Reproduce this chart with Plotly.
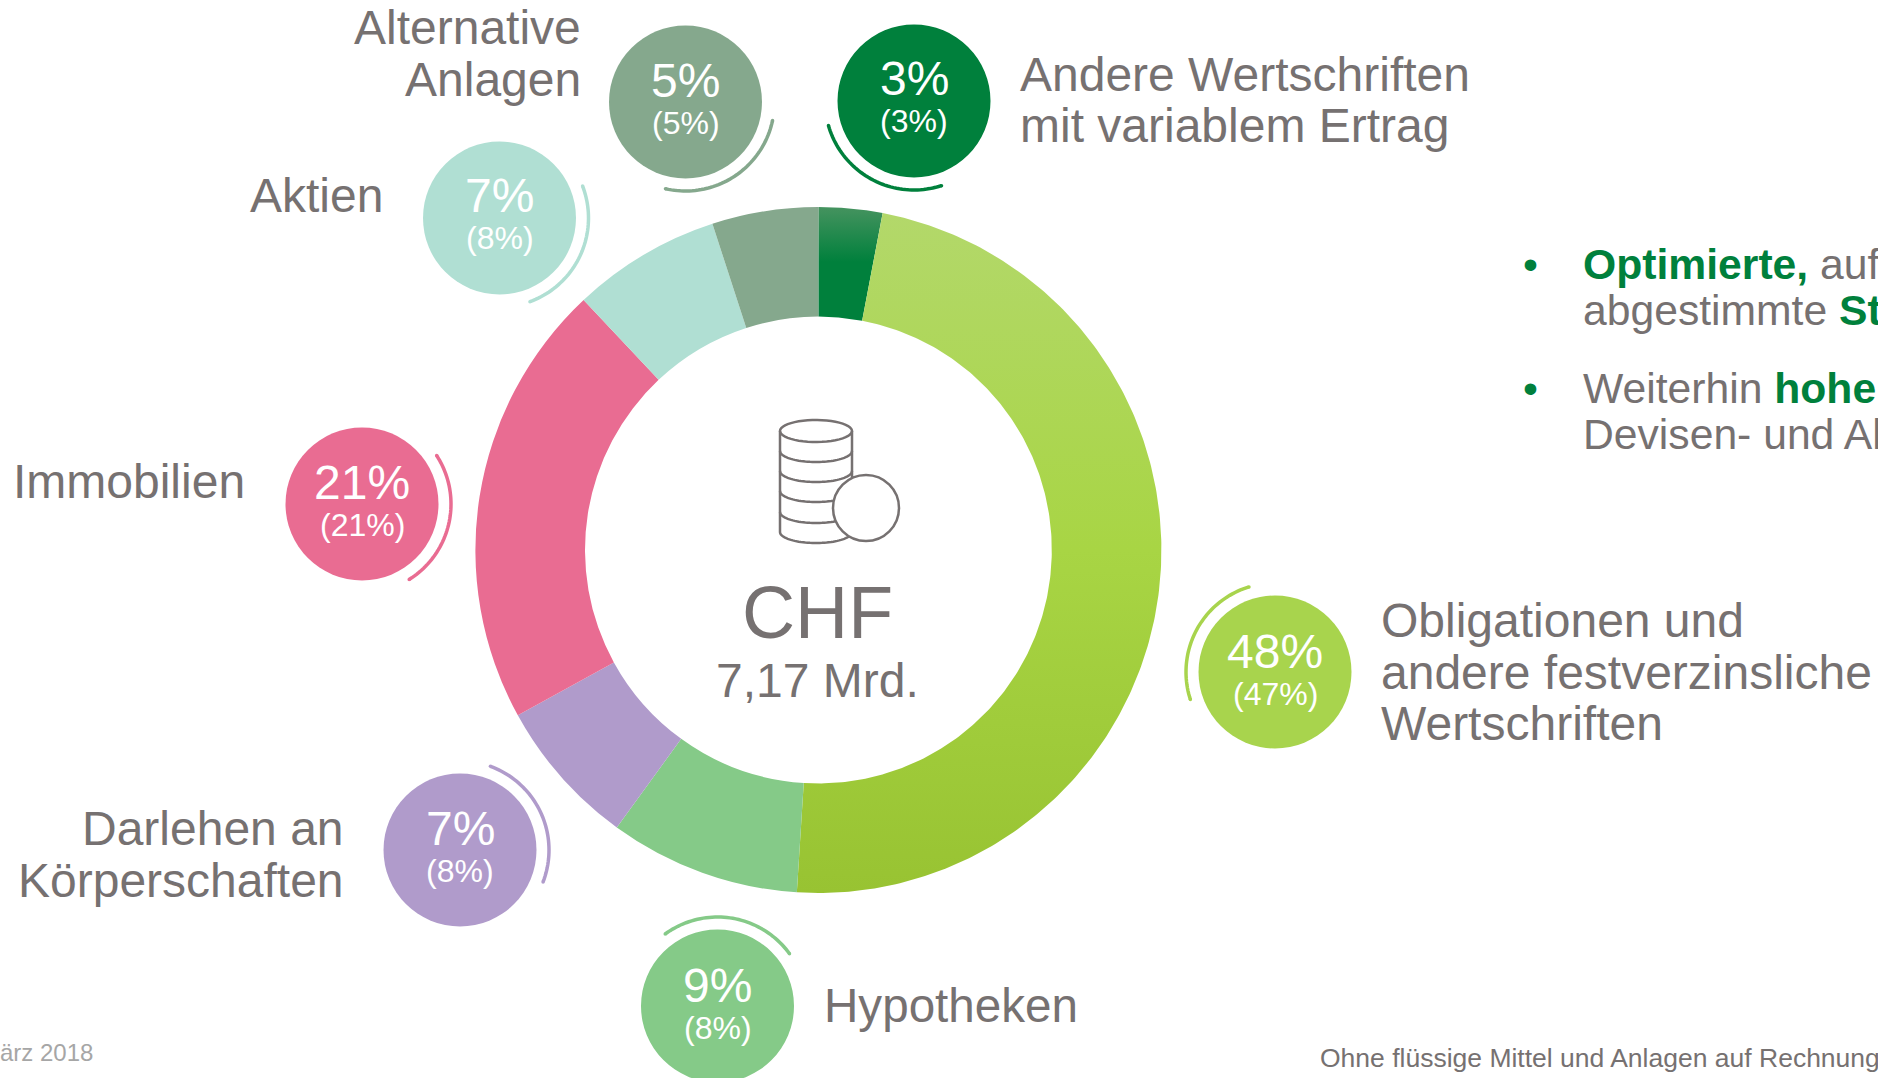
import math
import numpy as np
import plotly.graph_objects as go

# ---- data ----
categories = ["Andere Wertschriften mit variablem Ertrag",
              "Obligationen und andere festverzinsliche Wertschriften",
              "Hypotheken", "Darlehen an Körperschaften", "Immobilien",
              "Aktien", "Alternative Anlagen"]
share_current = [3, 48, 9, 7, 21, 7, 5]
share_previous = [3, 47, 8, 8, 21, 8, 5]
slice_colors = ["#00803C", "#A8D44D", "#85CA88", "#B09BCB", "#E96C92", "#B0DFD3", "#85A88D"]

# ---- layout (pixels of the 1878x1078 page) ----
W, H = 1878, 1078
CX, CY, R_OUT, R_IN = 818.4, 550, 343, 233.4
TXT = "#767171"
GREEN = "#00803C"
FONT = "Liberation Sans"
bubble_xy = [(914, 101), (1275, 672), (717.5, 1006), (460, 850), (362, 504), (499.5, 218), (685.5, 102)]
bubble_text_dy = [-1.5, 0, 0, -1, -1, -2, -1]
arc_deg = [(162, 254), (252, 343), (324, 414), (20, 111), (57, 148), (69, 160), (102, 193)]
BUB_R, ARC_R = 76.5, 89


def ring_slice(start_pct, end_pct):
    a = np.radians(np.linspace(start_pct, end_pct, 240) * 3.6)
    xs = np.r_[CX + R_OUT * np.sin(a), CX + R_IN * np.sin(a[::-1])]
    ys = np.r_[CY - R_OUT * np.cos(a), CY - R_IN * np.cos(a[::-1])]
    return np.r_[xs, xs[0]], np.r_[ys, ys[0]]


def ell(cx, cy, rx, ry, d0, d1, n=48):
    """Polyline along an ellipse; degrees clockwise from the top."""
    a = np.radians(np.linspace(d0, d1, n))
    return [(cx + rx * math.sin(t), cy - ry * math.cos(t)) for t in a]


def poly(points, close=False):
    return "M" + " L".join(f"{x:.2f},{y:.2f}" for x, y in points) + (" Z" if close else "")


fig = go.Figure()
cum = np.cumsum([0] + share_current)

# Vertically shaded slices sit under transparent sectors of the pie
shades = {
    0: (207, 262, [[0, "#45935F"], [1, "#00803C"]]),
    1: (207, 893, [[0, "#B3D86B"], [0.5, "#A8D544"], [1, "#98C332"]]),
}
for i, (y0, y1, scale) in shades.items():
    x, y = ring_slice(cum[i], cum[i + 1])
    fig.add_trace(go.Scatter(x=x, y=y, mode="lines", line=dict(width=0), fill="toself",
                             fillgradient=dict(type="vertical", start=y0, stop=y1, colorscale=scale),
                             hoverinfo="skip", showlegend=False))

fig.add_trace(go.Pie(
    labels=categories, values=share_current, sort=False, direction="clockwise", rotation=0,
    hole=R_IN / R_OUT, textinfo="none", showlegend=False,
    marker=dict(colors=["rgba(0,0,0,0)" if i in shades else c for i, c in enumerate(slice_colors)],
                line=dict(width=0)),
    domain=dict(x=[(CX - R_OUT) / W, (CX + R_OUT) / W], y=[1 - (CY + R_OUT) / H, 1 - (CY - R_OUT) / H]),
))

shapes, ann = [], []


def text(x, baseline, s, size, anchor="left", color=TXT):
    ann.append(dict(x=x, y=baseline - 0.346 * size, xref="x", yref="y", text=s, showarrow=False,
                    xanchor=anchor, yanchor="middle", align=anchor, borderpad=0,
                    font=dict(family=FONT, size=size, color=color)))


def disc(x, y, r, color, line=None):
    shapes.append(dict(type="circle", xref="x", yref="y", x0=x - r, x1=x + r, y0=y - r, y1=y + r,
                       fillcolor=color, line=line or dict(width=0), layer="above"))


for (bx, by), dy, (a0, a1), col, cur, prev in zip(bubble_xy, bubble_text_dy, arc_deg, slice_colors,
                                                  share_current, share_previous):
    disc(bx, by, BUB_R, col)
    pts = ell(bx, by, ARC_R, ARC_R, a0, a1)
    shapes.append(dict(type="path", xref="x", yref="y", layer="above", line=dict(color=col, width=3.5),
                       path=poly(pts)))
    for q in (pts[0], pts[-1]):
        disc(q[0], q[1], 1.75, col)
    text(bx, by - 4 + dy, f"{cur}%", 48, "center", "white")
    text(bx, by + 33 + dy, f"({prev}%)", 32, "center", "white")

# Category labels
text(581.5, 44, "Alternative", 48, "right")
text(581.5, 96, "Anlagen", 48, "right")
text(384, 212, "Aktien", 48, "right")
text(246, 498, "Immobilien", 48, "right")
text(345, 845, "Darlehen an", 48, "right")
text(345, 897, "Körperschaften", 48, "right")
text(823, 1022, "Hypotheken", 47.6)
text(1380, 637, "Obligationen und", 48)
text(1380, 689, "andere festverzinsliche", 48)
text(1380, 740, "Wertschriften", 48)
text(1019, 91, "Andere Wertschriften", 48)
text(1019, 142, "mit variablem Ertrag", 48)

# Centre
text(817, 638, "CHF", 73.5, "center")
text(817, 697, "7,17 Mrd.", 48, "center")

# Bullets (cut by the page edge in the reference)
hi = lambda s: f'<b><span style="color:{GREEN}">{s}</span></b>'
text(1530, 279, "•", 42.67, "center", GREEN)
text(1582, 279, hi("Optimierte,") + " auf", 42.67)
text(1582, 325, "abgestimmte " + hi("St"), 42.67)
text(1530, 403, "•", 42.67, "center", GREEN)
text(1582, 403, "Weiterhin " + hi("hohe"), 42.67)
text(1582, 449, "Devisen- und Al", 42.67)

# Footers
text(93.5, 1061, "März 2018", 24, "right", "#A6A6A6")
text(1319, 1067, "Ohne flüssige Mittel und Anlagen auf Rechnung", 26.5)

# Centre icon
icon = dict(color=TXT, width=2.5)
top = ell(816, 431, 36, 11, 270, 630)
side = [(780, 431)] + ell(816, 532, 36, 11, 270, 90) + [(852, 431)]
shapes.append(dict(type="path", xref="x", yref="y", layer="above", line=icon, path=poly(top, True)))
shapes.append(dict(type="path", xref="x", yref="y", layer="above", line=icon, path=poly(side)))
for yb in (451, 471, 491, 512):
    shapes.append(dict(type="path", xref="x", yref="y", layer="above", line=icon,
                       path=poly(ell(816, yb, 36, 11, 270, 90))))
disc(866, 508, 33, "white", icon)

fig.update_layout(
    width=W, height=H, margin=dict(l=0, r=0, t=0, b=0), autosize=False,
    paper_bgcolor="white", plot_bgcolor="white", showlegend=False,
    xaxis=dict(range=[0, W], visible=False, fixedrange=True),
    yaxis=dict(range=[H, 0], visible=False, fixedrange=True),
    shapes=shapes, annotations=ann,
)
fig.write_html("out.html", config=dict(displayModeBar=False),
               post_script="document.body.style.margin='0';document.body.style.overflow='hidden';")
